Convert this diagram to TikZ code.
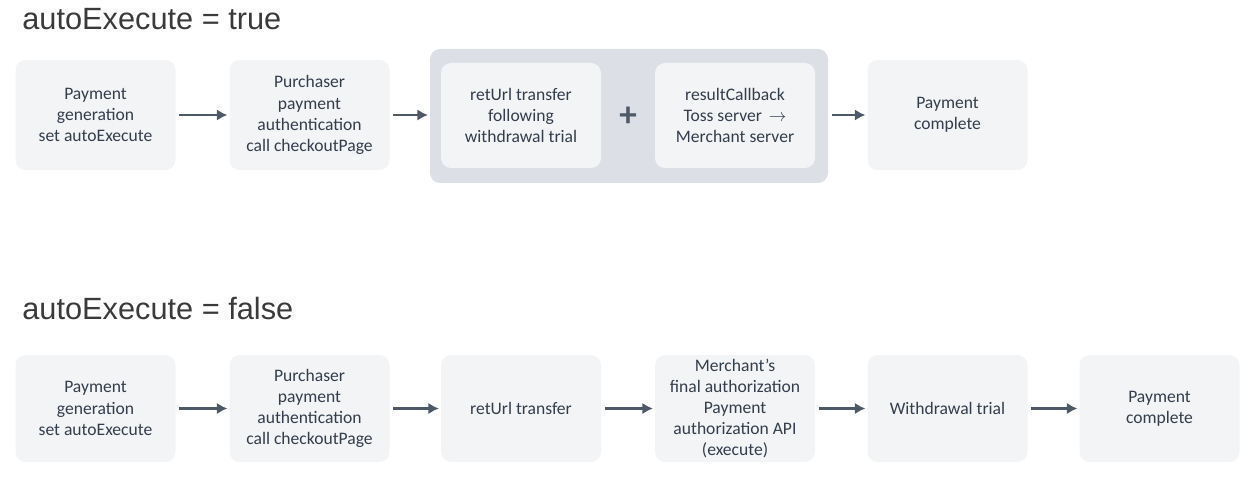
\documentclass[tikz,border=0pt]{standalone}
\usepackage{fontspec}
\setmainfont{Carlito}
\newfontfamily\titlefont{Liberation Sans}
\usetikzlibrary{arrows.meta}

\definecolor{boxgray}{HTML}{F2F4F6}
\definecolor{groupgray}{HTML}{DCDFE5}
\definecolor{arrowblue}{HTML}{4E5968}
\definecolor{textgray}{HTML}{333D4B}
\definecolor{titlegray}{HTML}{3A3A3A}

\tikzset{
    stepbox/.style={fill=boxgray,rounded corners=0.2cm,minimum width=3.2cm,minimum height=2.2cm,
        align=center,text=textgray,font=\fontsize{10}{12}\selectfont,inner sep=0pt},
    innerbox/.style={stepbox,minimum height=2.1cm},
    flow/.style={arrowblue,line width=1.3pt,-{Latex[length=6pt,width=6.5pt]},shorten <=2pt,shorten >=1pt},
    heading/.style={anchor=base west,text=titlegray,font=\titlefont\fontsize{17.5}{20}\selectfont,inner sep=0pt}
}

\begin{document}
\begin{tikzpicture}
        \useasboundingbox (0,0) rectangle (25.18,-9.62);

        % autoExecute = true
        \node[heading] (titletrue) at (0.44,-0.6) {autoExecute = true};

        \node[stepbox] (gentrue) at (1.91,-2.3) {Payment\\generation\\set autoExecute};
        \node[stepbox] (authtrue) at (6.19,-2.3) {Purchaser\\payment\\authentication\\call checkoutPage};

        % group with retUrl and callback
        \node[fill=groupgray,rounded corners=0.2cm,minimum width=7.96cm,minimum height=2.68cm] (grp) at (12.58,-2.32) {};
        \node[innerbox] (returltrue) at (10.42,-2.31) {retUrl transfer\\following\\withdrawal trial};
        \node[innerbox] (callback) at (14.7,-2.31) {resultCallback\\Toss server \,$\rightarrow$\\Merchant server};
        \node[text=arrowblue,font=\fontsize{20}{20}\selectfont\bfseries] (plus) at (12.56,-2.34) {+};

        \node[stepbox] (donetrue) at (18.95,-2.3) {Payment\\complete};

        \draw[flow] (gentrue) -- (authtrue);
        \draw[flow] (authtrue.east) -- (authtrue.east -| grp.west);
        \draw[flow] (grp.east |- donetrue.west) -- (donetrue.west);

        % autoExecute = false
        \node[heading] (titlefalse) at (0.44,-6.4) {autoExecute = false};

        \node[stepbox,minimum height=2.14cm] (genfalse) at (1.91,-8.17) {Payment\\generation\\set autoExecute};
        \node[stepbox,minimum height=2.14cm] (authfalse) at (6.19,-8.17) {Purchaser\\payment\\authentication\\call checkoutPage};
        \node[stepbox,minimum height=2.14cm] (returlfalse) at (10.42,-8.17) {retUrl transfer};
        \node[stepbox,minimum height=2.14cm] (execute) at (14.7,-8.17) {Merchant’s\\final authorization\\Payment\\authorization API\\(execute)};
        \node[stepbox,minimum height=2.14cm] (withdraw) at (18.95,-8.17) {Withdrawal trial};
        \node[stepbox,minimum height=2.14cm] (donefalse) at (23.19,-8.17) {Payment\\complete};

        \draw[flow] (genfalse) -- (authfalse);
        \draw[flow] (authfalse) -- (returlfalse);
        \draw[flow] (returlfalse) -- (execute);
        \draw[flow] (execute) -- (withdraw);
        \draw[flow] (withdraw) -- (donefalse);
\end{tikzpicture}
\end{document}
